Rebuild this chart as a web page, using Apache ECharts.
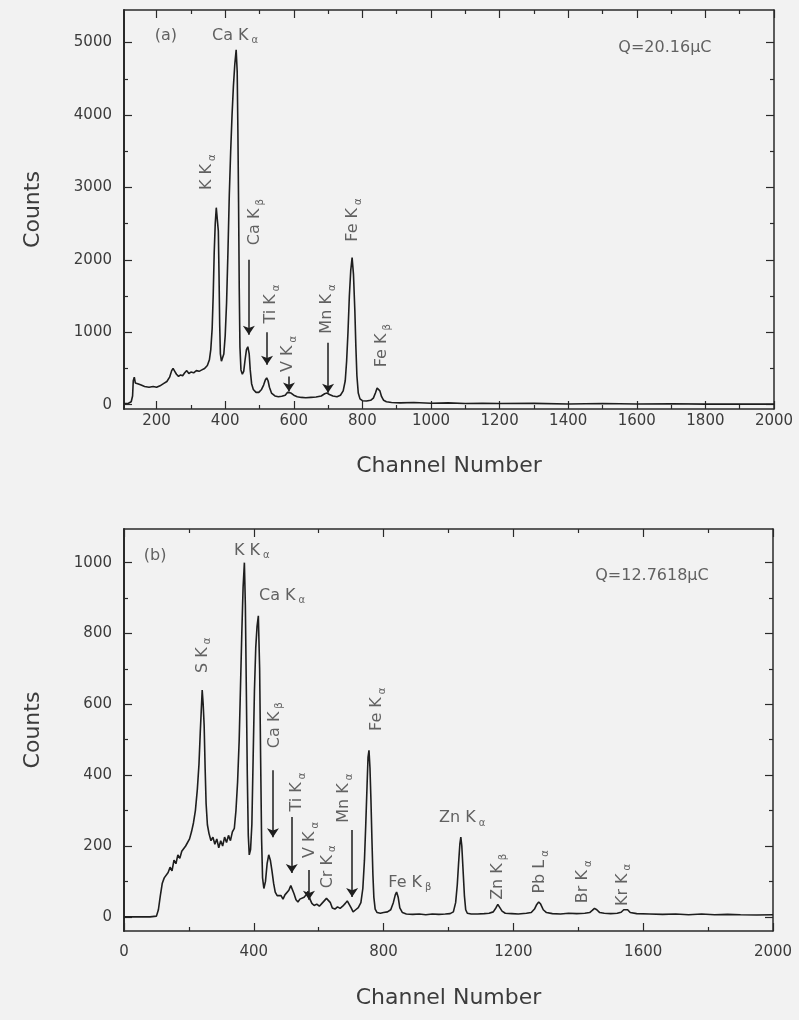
<!DOCTYPE html>
<html>
<head>
<meta charset="utf-8">
<script src="https://cdn.jsdelivr.net/npm/echarts@6/dist/echarts.min.js"></script>
<style>
html, body { margin: 0; padding: 0; background: #f2f2f2; }
#main { width: 799px; height: 1020px; }
</style>
</head>
<body>
<div id="main"></div>
<script>
// spectrum (a): [channel, counts]
var specA = [
  [105, 15], [118, 20], [126, 40], [130, 120], [132, 330], [135, 380], [138, 300], [145, 290],
  [155, 270], [165, 250], [178, 240], [190, 250], [200, 240], [210, 260], [220, 290], [230, 320],
  [238, 380], [244, 470], [248, 500], [253, 460], [258, 420], [264, 390], [270, 410], [276, 400],
  [282, 440], [288, 470], [294, 430], [300, 450], [308, 440], [316, 470], [324, 460], [332, 480],
  [340, 500], [348, 540], [354, 620], [358, 760], [362, 1050], [365, 1500], [368, 2100], [371, 2500],
  [374, 2720], [377, 2700], [380, 2400], [382, 1800], [384, 1100], [386, 700], [389, 600], [392, 610],
  [396, 700], [400, 950], [404, 1400], [408, 2100], [412, 2900], [416, 3500], [420, 4000], [424, 4400],
  [428, 4700], [432, 4900], [435, 4600], [437, 3800], [439, 2800], [441, 1600], [443, 800], [446, 480],
  [450, 420], [454, 460], [458, 620], [462, 760], [466, 800], [470, 700], [473, 480], [477, 290],
  [482, 210], [490, 170], [498, 170], [506, 210], [512, 270], [517, 340], [521, 370], [525, 330],
  [529, 240], [535, 160], [545, 120], [555, 110], [565, 115], [575, 130], [582, 170], [587, 190],
  [592, 160], [600, 130], [610, 110], [622, 100], [635, 95], [650, 100], [665, 105], [680, 120],
  [690, 150], [697, 160], [704, 140], [714, 120], [726, 110], [736, 130], [744, 190], [750, 330],
  [754, 600], [758, 1000], [762, 1500], [766, 1850], [770, 2030], [774, 1800], [778, 1300], [781, 800],
  [784, 400], [788, 160], [793, 80], [800, 55], [812, 50], [824, 60], [832, 90], [838, 160],
  [843, 230], [847, 240], [851, 190], [856, 110], [862, 60], [870, 40], [885, 30], [910, 25],
  [950, 30], [1000, 20], [1050, 25], [1100, 15], [1150, 20], [1200, 15], [1300, 18], [1400, 10],
  [1500, 15], [1600, 10], [1700, 12], [1800, 8], [1900, 10], [2000, 8]
];

// spectrum (b): [channel, counts]
var specB = [
  [0, 0], [40, 0], [80, 0], [100, 2], [106, 20], [112, 60], [118, 95], [124, 110], [130, 105],
  [136, 125], [142, 140], [148, 130], [154, 160], [160, 150], [166, 175], [172, 165], [178, 185],
  [184, 180], [190, 200], [196, 195], [202, 220], [208, 240], [214, 265], [220, 300], [226, 360],
  [231, 430], [235, 520], [238, 580], [241, 640], [244, 600], [247, 540], [250, 420], [253, 320],
  [257, 260], [262, 235], [268, 215], [274, 225], [280, 205], [286, 220], [292, 195], [298, 215],
  [304, 200], [310, 225], [316, 210], [322, 230], [328, 215], [334, 240], [340, 250], [345, 300],
  [350, 380], [355, 500], [359, 650], [363, 800], [367, 930], [371, 1000], [374, 880], [377, 640],
  [380, 400], [383, 230], [386, 175], [390, 190], [394, 260], [398, 450], [402, 640], [406, 760],
  [410, 820], [414, 850], [418, 700], [421, 450], [424, 220], [427, 110], [431, 80], [436, 100],
  [441, 150], [446, 175], [451, 160], [456, 130], [461, 95], [466, 70], [472, 60], [478, 55],
  [484, 60], [490, 50], [496, 62], [502, 58], [508, 75], [514, 88], [519, 90], [524, 65],
  [530, 48], [536, 42], [542, 50], [548, 45], [555, 55], [561, 62], [567, 72], [573, 50],
  [579, 38], [586, 32], [594, 36], [602, 30], [610, 38], [617, 45], [624, 52], [630, 56],
  [636, 40], [642, 25], [650, 22], [658, 28], [666, 24], [674, 30], [682, 38], [688, 45],
  [694, 42], [700, 25], [706, 14], [714, 20], [722, 26], [730, 40], [736, 80], [741, 160],
  [745, 260], [749, 370], [752, 450], [755, 470], [758, 420], [761, 330], [764, 220], [767, 120],
  [770, 55], [774, 22], [780, 12], [790, 10], [800, 12], [812, 14], [822, 20], [830, 40],
  [836, 62], [840, 70], [845, 55], [850, 25], [858, 12], [870, 8], [890, 7], [910, 8],
  [930, 6], [950, 8], [970, 7], [990, 8], [1005, 9], [1015, 14], [1022, 40], [1027, 90],
  [1031, 150], [1035, 205], [1038, 225], [1041, 200], [1045, 130], [1049, 60], [1053, 20], [1058, 10],
  [1070, 8], [1090, 8], [1110, 9], [1125, 10], [1138, 14], [1146, 25], [1152, 35], [1158, 30],
  [1165, 16], [1175, 10], [1195, 9], [1215, 8], [1240, 10], [1255, 12], [1265, 22], [1272, 35],
  [1278, 42], [1284, 36], [1292, 20], [1302, 12], [1320, 9], [1345, 8], [1370, 10], [1395, 9],
  [1420, 10], [1435, 12], [1443, 18], [1450, 24], [1457, 20], [1466, 12], [1480, 10], [1500, 9],
  [1520, 10], [1532, 13], [1540, 20], [1546, 24], [1552, 20], [1560, 12], [1580, 9], [1620, 8],
  [1660, 7], [1700, 8], [1740, 6], [1780, 8], [1820, 6], [1860, 7], [1900, 6], [1950, 5], [2000, 6]
];

// peak labels: [text, subscript, channel, counts, rotate]
var labelsA = [
  ['(a)', '', 227, 5100, 0],
  ['Ca K', 'α', 429, 5100, 0],
  ['Q=20.16μC', '', 1682, 4925, 0],
  ['K K', 'α', 347, 3210, 90],
  ['Ca K', 'β', 487, 2520, 90],
  ['Ti K', 'α', 534, 1390, 90],
  ['V K', 'α', 583, 700, 90],
  ['Mn K', 'α', 697, 1320, 90],
  ['Fe K', 'α', 773, 2550, 90],
  ['Fe K', 'β', 857, 815, 90]
];
var labelsB = [
  ['(b)', '', 96, 1020, 0],
  ['K K', 'α', 394, 1034, 0],
  ['Ca K', 'α', 487, 907, 0],
  ['Q=12.7618μC', '', 1627, 963, 0],
  ['S K', 'α', 243, 738, 90],
  ['Ca K', 'β', 465, 541, 90],
  ['Ti K', 'α', 533, 352, 90],
  ['V K', 'α', 573, 217, 90],
  ['Cr K', 'α', 628, 141, 90],
  ['Mn K', 'α', 678, 335, 90],
  ['Fe K', 'α', 780, 586, 90],
  ['Fe K', 'β', 881, 96, 0],
  ['Zn K', 'α', 1042, 279, 0],
  ['Zn K', 'β', 1153, 113, 90],
  ['Pb L', 'α', 1282, 127, 90],
  ['Br K', 'α', 1415, 99, 90],
  ['Kr K', 'α', 1537, 90, 90]
];

// arrows: [channel, counts from, counts to]
var arrowsA = [[469, 2000, 965], [522, 1000, 550], [586, 390, 180], [700, 855, 165]];
var arrowsB = [[459, 414, 225], [517, 282, 124], [570, 132, 48], [703, 245, 56]];

// ticks
var xMajorA = [200, 400, 600, 800, 1000, 1200, 1400, 1600, 1800, 2000];
var xMinorA = [300, 500, 700, 900, 1100, 1300, 1500, 1700, 1900];
var yMajorA = [0, 1000, 2000, 3000, 4000, 5000];
var yMinorA = [500, 1500, 2500, 3500, 4500];
var xMajorB = [0, 400, 800, 1200, 1600, 2000];
var xMinorB = [200, 600, 1000, 1400, 1800];
var yMajorB = [0, 200, 400, 600, 800, 1000];
var yMinorB = [100, 300, 500, 700, 900];

var FONT = 'DejaVu Sans';
var TXT = '#3c3c3c';

// four axes for one direction of one panel: main side major/minor, opposite side major/minor
function axes(dim, grid, min, max, majors, minors, name, nameGap) {
    var sides = dim === 'x' ? ['bottom', 'top'] : ['left', 'right'];
    var list = [];
    sides.forEach(function (side, si) {
        [majors, minors].forEach(function (vals, mi) {
            var a = {
                type: 'value', gridIndex: grid, position: side, min: min, max: max,
                axisLine: { show: mi === 0, onZero: false, lineStyle: { color: '#2a2a2a', width: (side === 'left') ? 2 : 1.5 } },
                axisTick: { show: true, inside: true, length: mi === 0 ? 8 : 4, customValues: vals,
                            lineStyle: { color: '#2a2a2a', width: 1.2 } },
                axisLabel: { show: si === 0 && mi === 0, customValues: majors, fontFamily: FONT, fontSize: 15,
                             color: TXT, margin: dim === 'x' ? (grid === 0 ? 5 : 14) : 12,
                             formatter: function (v) { return String(v); } },
                splitLine: { show: false }
            };
            if (si === 0 && mi === 0) {
                a.name = name;
                a.nameLocation = 'middle';
                a.nameGap = nameGap;
                a.nameTextStyle = { fontFamily: FONT, fontSize: 22, color: TXT };
            }
            list.push(a);
        });
    });
    return list;
}

function labelSeries(labels, arrows, xi, yi) {
    return {
        type: 'scatter', xAxisIndex: xi, yAxisIndex: yi, symbolSize: 0, silent: true,
        data: labels.map(function (l) {
            return { value: [l[2], l[3]], txt: l[0], sub: l[1], label: { rotate: l[4] } };
        }),
        label: {
            show: true, position: 'inside', align: 'center', verticalAlign: 'middle',
            formatter: function (p) {
                var s = '{t|' + p.data.txt + '}';
                if (p.data.sub) s += '{s|' + p.data.sub + '}';
                return s;
            },
            rich: {
                t: { fontFamily: FONT, fontSize: 16, color: TXT, lineHeight: 20 },
                s: { fontFamily: FONT, fontSize: 10, color: TXT, lineHeight: 10, verticalAlign: 'bottom', padding: [0, 0, 0, 3] }
            }
        },
        markLine: {
            silent: true, symbol: ['none', 'arrow'], symbolSize: 9, animation: false,
            label: { show: false },
            lineStyle: { color: '#1e1e1e', width: 1.5, type: 'solid' },
            data: arrows.map(function (a) {
                return [{ coord: [a[0], a[1]] }, { coord: [a[0], a[2]] }];
            })
        }
    };
}

var option = {
    backgroundColor: '#f2f2f2',
    animation: false,
    grid: [
        { left: 124, right: 25, top: 10, height: 399 },
        { left: 124, right: 26, top: 529, height: 402 }
    ],
    xAxis: axes('x', 0, 105, 2000, xMajorA, xMinorA, 'Channel Number', 46)
        .concat(axes('x', 1, 0, 2000, xMajorB, xMinorB, 'Channel Number', 56)),
    yAxis: axes('y', 0, -60, 5450, yMajorA, yMinorA, 'Counts', 80)
        .concat(axes('y', 1, -40, 1095, yMajorB, yMinorB, 'Counts', 80)),
    series: [
        { type: 'line', xAxisIndex: 0, yAxisIndex: 0, data: specA, symbol: 'none',
          lineStyle: { color: '#1e1e1e', width: 1.6 } },
        { type: 'line', xAxisIndex: 4, yAxisIndex: 4, data: specB, symbol: 'none',
          lineStyle: { color: '#1e1e1e', width: 1.6 } },
        labelSeries(labelsA, arrowsA, 0, 0),
        labelSeries(labelsB, arrowsB, 4, 4)
    ]
};

var chart = echarts.init(document.getElementById('main'));
chart.setOption(option);
</script>
</body>
</html>
